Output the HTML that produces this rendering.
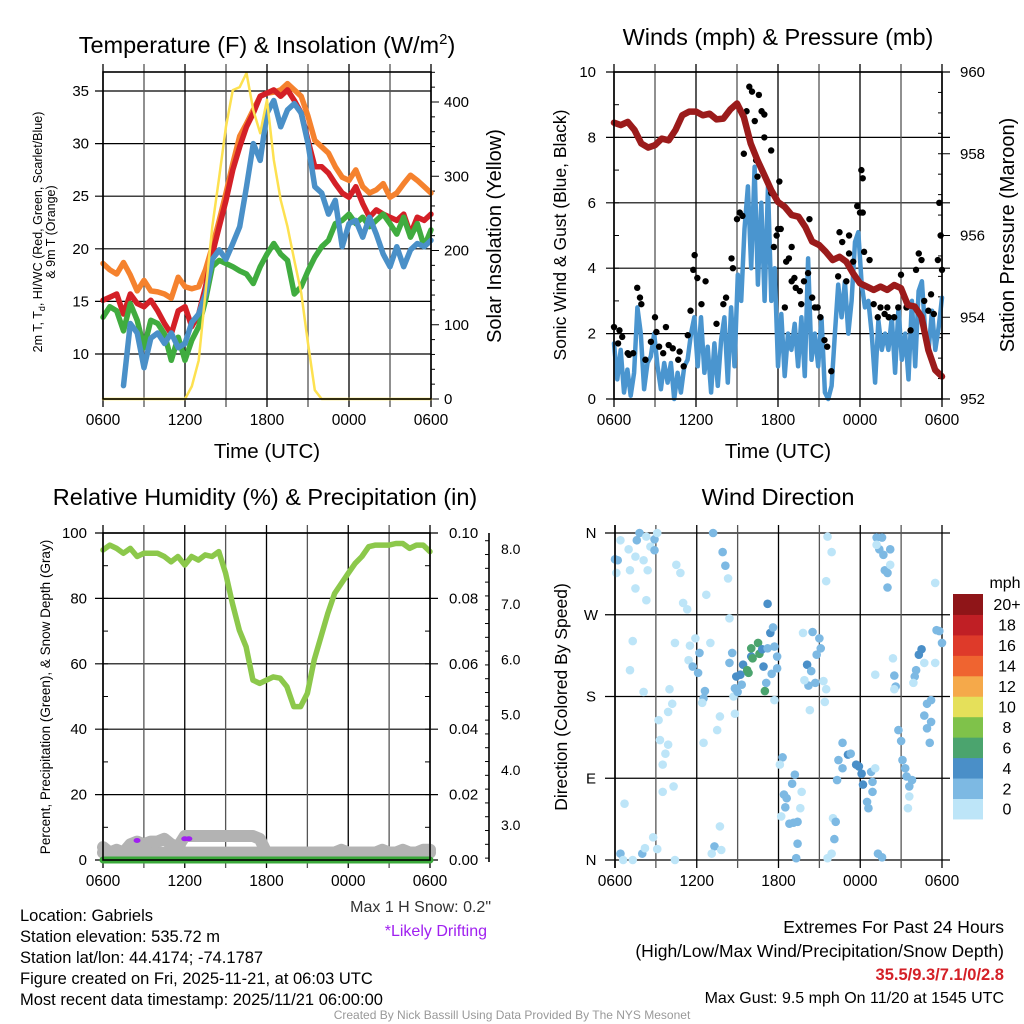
<!DOCTYPE html>
<html><head><meta charset="utf-8"><style>
html,body{margin:0;padding:0;background:#fff}
svg{display:block;font-family:"Liberation Sans",Arial,sans-serif}
</style></head><body>
<svg id="s" width="1024" height="1024" viewBox="0 0 1024 1024" xmlns="http://www.w3.org/2000/svg">
<rect width="1024" height="1024" fill="#fff"/>
<g id="g1"></g>
<g id="g2"></g>
<g id="g3"></g>
<g id="g4"></g>
<g id="gt"></g>
</svg>
<script>
// ---------- DATA ----------
const xTickLabels = ["0600","1200","1800","0000","0600"];
const tOrange = [18.6,18.0,17.6,18.7,17.5,16.0,17.0,16.0,15.9,15.7,15.3,17.3,16.4,16.2,16.4,18.0,20.2,22.7,25.3,28.1,30.7,31.9,33.2,34.5,34.8,34.9,35.1,35.7,35.1,34.5,32.6,30.3,29.7,29.1,27.8,26.8,26.5,27.5,25.9,25.3,25.6,26.2,24.9,25.3,26.2,27.0,26.5,25.9,25.3];
const tRed = [15.1,15.4,15.7,13.8,15.7,14.8,14.5,15.1,14.1,12.9,11.9,14.1,14.5,12.6,13.8,16.4,19.5,22.1,24.6,27.5,29.7,31.6,32.9,34.5,34.8,35.1,34.5,35.1,34.1,32.9,30.3,27.8,27.8,27.2,26.2,25.3,24.9,25.9,24.3,23.0,23.7,23.3,23.0,22.7,23.3,21.4,23.0,22.7,23.3];
const tBlue = [null,null,null,7.0,12.9,12.0,8.7,11.5,12.0,11.0,12.0,10.6,11.0,13.0,13.8,15.7,19.0,19.9,19.0,20.5,22.1,25.9,30.0,28.4,32.9,34.1,31.6,33.2,33.8,32.9,30.0,25.9,25.3,23.3,24.6,20.2,22.4,22.7,21.1,23.0,21.4,19.5,18.3,20.2,18.3,19.9,20.5,20.2,20.8];
const tGreen = [13.5,14.5,14.1,12.2,14.8,13.2,10.6,13.2,12.9,11.9,9.4,11.6,9.4,11.3,12.6,15.1,18.3,18.9,18.6,18.3,17.9,17.6,16.7,18.3,19.5,20.5,19.5,18.9,15.7,16.4,17.9,19.2,20.2,20.8,22.4,22.7,23.3,22.4,23.0,22.1,22.7,23.3,22.4,21.4,23.0,21.1,22.4,20.2,21.8];
const solar = [0,0,0,0,0,0,0,0,0,0,0,0,0,17,52,143,232,299,367,416,420,439,389,358,403,322,268,232,187,143,75,12,0,0,0,0,0,0,0,0,0,0,0,0,0,0,0,0,0];
const wind = [1.7,0.6,1.5,0.2,0.9,0.1,0.8,2.8,2.0,0.3,1.1,1.3,2.0,1.0,0.3,1.1,0.5,1.1,0.0,0.8,0.2,1.0,1.2,2.0,2.5,1.0,2.5,0.8,1.6,0.2,1.7,0.4,1.8,2.5,0.5,2.8,1.0,3.8,3.0,5.2,6.5,4.0,7.1,3.5,6.0,3.0,6.5,3.0,4.0,1.0,2.6,0.7,2.0,1.5,2.3,1.0,2.5,0.7,4.3,1.2,2.0,1.0,2.5,0.2,0.0,0.4,2.0,3.5,2.5,3.6,2.0,3.0,4.8,5.1,3.5,2.8,3.0,2.0,0.5,2.4,1.5,2.0,1.5,2.5,0.8,2.8,1.2,2.0,0.6,3.0,1.0,3.3,3.6,2.0,1.5,2.7,1.5,2.2,3.1];
const pressure = [958.76,958.70,958.78,958.58,958.25,958.15,958.21,958.37,958.33,958.58,958.94,959.03,959.03,958.94,958.98,958.84,958.86,959.08,959.23,958.90,958.25,957.84,957.48,957.11,956.82,956.70,956.50,956.46,956.21,955.85,955.77,955.60,955.40,955.48,955.36,955.07,954.83,954.75,954.67,954.75,954.67,954.79,954.71,954.30,954.26,954.01,953.20,952.71,952.55];
const gustHours = [0.0,0.4,0.6,0.3,1.0,1.1,1.4,1.7,1.9,2.0,2.3,2.7,3.0,3.1,3.3,3.6,3.8,4.0,4.3,4.7,4.8,5.1,5.4,5.6,5.8,5.9,6.1,6.4,6.7,7.5,8.0,8.2,8.6,8.7,9.0,9.2,9.4,9.5,9.7,9.9,10.1,10.3,10.4,10.5,10.6,10.8,11.0,11.0,11.5,11.5,11.7,11.9,12.0,12.1,12.2,12.5,12.6,12.8,13.0,13.0,13.2,13.3,13.6,13.7,13.9,14.2,14.3,14.5,14.7,14.9,15.1,15.4,15.6,15.9,16.4,16.5,16.7,17.0,17.2,17.2,17.5,17.8,18.0,18.1,18.2,18.2,18.3,18.7,19.0,19.3,19.5,19.8,20.0,20.1,20.5,20.8,21.0,21.4,21.7,22.1,22.3,22.5,22.7,23.0,23.2,23.4,23.7,23.8,23.9,24.0];
const gustValues = [2.2,2.1,1.9,1.7,1.4,1.35,1.4,3.4,3.1,2.9,1.2,1.75,2.5,2.05,1.6,1.4,2.2,1.65,1.55,1.2,1.45,1.0,1.95,2.7,3.95,4.4,3.7,2.9,3.6,2.3,2.9,3.1,4.3,4.0,5.5,5.7,5.6,7.5,8.8,9.55,9.4,8.5,7.3,6.8,9.3,8.8,8.7,8.0,7.6,6.3,4.65,5.0,5.2,6.65,5.2,2.8,4.2,4.3,4.65,3.6,3.7,3.4,3.3,2.9,3.6,3.85,5.5,3.1,2.8,2.8,2.5,1.8,1.6,0.85,3.75,5.1,4.8,3.6,5.0,4.45,4.2,5.9,5.7,7.0,6.75,5.7,4.5,4.25,2.9,2.5,2.8,2.6,2.8,2.5,2.5,2.8,3.8,2.8,2.1,3.95,4.45,4.25,3.0,2.7,3.2,2.6,4.25,6.0,5.0,3.95];
const rh = [94.8,96.3,95.3,93.8,95.3,92.8,93.8,93.8,93.8,92.8,91.2,92.8,90.2,92.8,91.7,93.3,92.8,94.3,87.7,78.5,70.3,65.2,55.0,54.0,55.0,56.0,55.6,53.0,46.9,46.9,51.0,61.2,68.3,75.4,81.5,84.6,87.7,90.7,92.8,95.8,96.3,96.3,96.3,96.8,96.8,95.3,96.3,96.3,94.3];
const precip = [0,0,0,0,0,0,0,0,0,0,0,0,0,0,0,0,0,0,0,0,0,0,0,0,0,0,0,0,0,0,0,0,0,0,0,0,0,0,0,0,0,0,0,0,0,0,0,0,0];
const snow = [2.6,2.5,2.55,2.5,2.65,2.7,2.65,2.7,2.7,2.75,2.65,2.6,2.8,2.8,2.8,2.8,2.8,2.8,2.8,2.8,2.8,2.8,2.8,2.75,2.5,2.5,2.5,2.5,2.5,2.5,2.5,2.5,2.5,2.5,2.5,2.55,2.5,2.5,2.5,2.5,2.5,2.55,2.5,2.5,2.55,2.5,2.5,2.55,2.55];
const driftHours = [2.5,6.0,6.3];
const driftValues = [2.72,2.75,2.75];
const dirHours = [0.0,0.2,0.1,0.4,1.0,1.1,1.5,1.6,1.8,1.5,2.1,2.3,2.4,2.6,2.9,2.9,2.3,3.1,1.3,1.1,2.1,3.2,3.3,3.5,3.7,3.9,3.9,4.2,4.0,4.4,4.3,3.5,0.7,0.4,0.6,1.3,2.0,2.2,2.8,3.1,4.4,4.5,4.8,5.0,5.3,5.9,5.5,5.4,5.7,6.1,6.2,6.6,6.5,6.4,7.0,6.7,6.5,7.2,7.9,8.1,8.3,8.4,8.6,8.4,8.7,8.8,7.7,7.5,7.7,7.3,7.1,7.8,8.9,9.2,9.4,9.7,9.8,10.0,10.1,10.0,10.5,10.6,10.8,10.9,11.0,11.1,11.2,11.4,11.6,11.7,11.9,11.9,11.5,11.2,9.0,8.8,9.3,11.7,12.3,12.1,13.2,13.0,12.4,12.6,12.5,12.2,12.8,13.1,13.4,13.6,13.7,13.4,13.3,13.8,14.5,14.1,14.4,15.0,15.1,14.8,14.7,14.2,13.9,14.3,15.3,15.5,15.4,15.6,15.9,15.5,16.7,16.4,16.7,17.1,17.3,17.7,17.9,18.1,18.2,18.5,18.6,18.9,18.8,19.1,18.9,16.3,16.0,16.2,16.1,15.9,15.6,19.2,19.6,19.4,19.7,19.8,20.0,20.2,20.2,20.0,19.2,19.3,19.6,19.1,20.5,20.6,20.5,20.4,20.8,21.0,21.1,21.3,21.4,21.8,21.6,21.6,21.5,22.1,22.0,21.9,22.3,22.5,22.7,23.5,22.9,23.2,22.7,23.2,22.9,23.1,23.6,23.8,24.0,23.5];
const dirDegs = [331,330,316,352,342,319,299,352,360,334,330,356,319,345,353,341,286,360,241,209,185,154,132,105,117,127,163,172,188,239,81,75,62,7,0,0,7,13,25,12,0,325,316,283,276,244,236,220,213,206,228,186,178,173,239,292,129,360,339,324,310,266,228,217,180,161,158,143,37,15,7,11,202,204,215,209,206,224,222,233,239,227,232,213,186,195,233,250,256,235,224,211,205,282,185,189,193,176,113,105,94,84,72,68,58,48,40,41,42,57,75,18,2,250,251,215,208,244,233,226,195,192,198,165,197,188,174,356,339,307,129,110,101,116,117,105,103,95,83,64,57,86,97,101,75,88,46,42,23,7,2,355,355,342,336,319,316,342,325,300,347,7,3,204,203,191,188,222,143,131,110,101,92,88,81,70,57,209,202,195,226,232,217,217,172,176,159,152,145,129,253,252,239,305];
const dirSpeeds = [3,3,1,1,1,1,1,3,3,1,1,1,1,1,3,3,1,1,1,1,1,1,1,1,1,1,1,1,1,1,1,1,1,3,1,1,3,1,1,1,1,1,1,1,1,1,1,1,3,3,3,3,3,1,1,1,1,3,3,3,1,1,3,3,1,1,1,1,1,3,1,1,5,5,5,7,7,5,7,7,7,7,5,5,7,3,3,5,3,3,3,3,3,5,3,3,3,1,3,1,3,3,3,3,3,1,3,3,3,1,1,3,3,1,3,5,3,3,3,3,3,3,1,1,1,1,1,1,1,1,3,3,3,5,3,5,5,5,5,3,3,3,3,1,3,3,1,3,3,1,1,3,3,3,3,3,3,3,1,3,1,3,3,1,3,3,1,1,3,3,3,3,3,3,3,1,1,3,3,1,5,5,1,1,3,3,3,3,3,3,3,3,3,1];
const speedBins = ["0","2","4","6","8","10","12","14","16","18","20+"];
const speedColors = ["#bde5f8","#7db9e3","#4a8fc8","#4ba46e","#7fc24a","#e5e05a","#f5a94a","#ef6430","#de3a2a","#c01f25","#8f1518"];

// ---------- HELPERS ----------
const NS="http://www.w3.org/2000/svg";
function el(parent, tag, attrs, text){const e=document.createElementNS(NS,tag);for(const k in attrs)e.setAttribute(k,attrs[k]);if(text!==undefined)e.textContent=text;parent.appendChild(e);return e;}
function lin(d0,d1,r0,r1){return v=>r0+(v-d0)*(r1-r0)/(d1-d0);}
function line(parent,x1,y1,x2,y2,c,w){return el(parent,'line',{x1,y1,x2,y2,stroke:c,'stroke-width':w});}
function poly(parent,xs,ys,vals,color,w,name){
  let segs=[],cur=[];const step=24/(vals.length-1);
  vals.forEach((v,i)=>{if(v===null||v===undefined){if(cur.length)segs.push(cur);cur=[];}else cur.push(xs(i*step).toFixed(1)+','+ys(v).toFixed(1));});
  if(cur.length)segs.push(cur);
  segs.forEach(s=>{const p=el(parent,'polyline',{points:s.join(' '),fill:'none',stroke:color,'stroke-width':w,'stroke-linejoin':'round','stroke-linecap':'round'});
  
  });
}
function frame(g,L,R,T,B){
  el(g,'rect',{x:L,y:T,width:R-L,height:B-T,fill:'none',stroke:'#000','stroke-width':1.6});
}
function xAxis(g,xs,B,T){
  for(let h=0;h<=24;h+=3){const x=xs(h);line(g,x,T-8,x,B+8,h%6==0?'#000':'#555',1.3);}
  xTickLabels.forEach((lab,i)=>{const t=el(g,'text',{x:xs(i*6),y:B+26,'font-size':15.5,'text-anchor':'middle'},lab);
    
    });
}
function txt(g,x,y,s,str,anchor,extra){const a=Object.assign({x,y,'font-size':s,'text-anchor':anchor||'start'},extra||{});return el(g,'text',a,str);}

// ---------- PANEL 1 ----------
(function(){
 const g=document.getElementById('g1');
 const L=103,R=431,T=72,B=399;
 const xs=lin(0,24,L,R), ys=lin(10,35,354,91), yr=lin(0,400,399,102);
 [10,15,20,25,30,35].forEach(v=>{line(g,L-8,ys(v),R,ys(v),'#000',1.2);const t=txt(g,L-14,ys(v)+5,15,String(v),'end');});
 for(let v=0;v<=440;v+=20){line(g,R,yr(v),R+(v%100==0?8:4),yr(v),'#000',1);}
 [0,100,200,300,400].forEach(v=>{const t=txt(g,R+13,yr(v)+5,15,String(v));});
 xAxis(g,xs,B,T);
 poly(g,xs,ys,tOrange,'#f5822e',5.5,'series-9m-temp');
 poly(g,xs,ys,tRed,'#d42027',5.5,'series-2m-temp');
 poly(g,xs,ys,tGreen,'#40ac3f',5.5,'series-dewpoint');
 poly(g,xs,ys,tBlue,'#4a90c8',5.5,'series-heat-index-windchill');
 poly(g,xs,yr,solar,'#fde150',2.5,'series-solar');
 frame(g,L,R,T,B);
 const t=txt(g,267,53,23.5,'','middle');
 t.innerHTML='Temperature (F) &amp; Insolation (W/m<tspan dy="-9" font-size="15">2</tspan><tspan dy="9">)</tspan>';
 const xt=txt(g,267,458,20.5,'Time (UTC)','middle');
 const yl=el(g,'text',{transform:'translate(42,232) rotate(-90)','font-size':12.5,'text-anchor':'middle'});
 
 yl.innerHTML='2m T, T<tspan dy="3" font-size="9">d</tspan><tspan dy="-3">, HI/WC (Red, Green, Scarlet/Blue)</tspan>';
 const yl2=txt(g,0,0,12.5,'& 9m T (Orange)','middle',{transform:'translate(55,232) rotate(-90)'});
 const yr2=txt(g,0,0,20,'Solar Insolation (Yellow)','middle',{transform:'translate(501,236) rotate(-90)'});
})();

// ---------- PANEL 2 ----------
(function(){
 const g=document.getElementById('g2');
 const L=614,R=942,T=72,B=399;
 const xs=lin(0,24,L,R), ys=lin(0,10,399,72), yp=lin(952,960,399,72);
 [0,2,4,6,8,10].forEach(v=>{line(g,L-8,ys(v),R+8,ys(v),'#000',1.2);const t=txt(g,L-18,ys(v)+5,15,String(v),'end');});
 for(let v=0;v<=10;v+=1){line(g,L,ys(v),L+5,ys(v),'#000',1);}
 for(let v=952;v<=960;v+=0.5){line(g,R-4,yp(v),R+(v%2==0?8:0),yp(v),'#000',1);}
 [952,954,956,958,960].forEach(v=>{const t=txt(g,R+18,yp(v)+5,15,String(v));});
 xAxis(g,xs,B,T);
 poly(g,xs,ys,wind,'#4a95cf',4.5,'series-sonic-wind');
 gustHours.forEach((h,i)=>{const c=el(g,'circle',{cx:xs(h),cy:ys(gustValues[i]),r:3.2,fill:'#000'});
   
   });
 poly(g,xs,yp,pressure,'#9b1b1b',6.5,'series-pressure');
 frame(g,L,R,T,B);
 const t=txt(g,778,45,23.5,'Winds (mph) & Pressure (mb)','middle');
 const xt=txt(g,778,458,20.5,'Time (UTC)','middle');
 const a=txt(g,0,0,17.5,'Sonic Wind & Gust (Blue, Black)','middle',{transform:'translate(566,235) rotate(-90)'});
 const b=txt(g,0,0,20,'Station Pressure (Maroon)','middle',{transform:'translate(1014,235) rotate(-90)'});
})();

// ---------- PANEL 3 ----------
(function(){
 const g=document.getElementById('g3');
 const L=103,R=430,T=533,B=860;
 const xs=lin(0,24,L,R), ys=lin(0,100,860,533), yp=lin(0,0.1,860,533), yn=lin(3,8,825,549);
 [0,20,40,60,80,100].forEach(v=>{line(g,L-8,ys(v),R+8,ys(v),'#000',1.2);const t=txt(g,L-16,ys(v)+5,15,String(v),'end');});
 for(let v=0;v<=100;v+=10){line(g,L,ys(v),L+5,ys(v),'#000',1);line(g,R-5,ys(v),R,ys(v),'#000',1);}
 ['0.00','0.02','0.04','0.06','0.08','0.10'].forEach((s,i)=>{const t=txt(g,R+19,ys(i*20)+5,15,s);});
 line(g,489,533,489,862,'#000',1.6);
 for(let v=2.4;v<=8.3;v+=0.25){line(g,489,yn(v),489-(Math.abs(v-Math.round(v))<0.01?8:4),yn(v),'#000',1);}
 [3,4,5,6,7,8].forEach(v=>{const t=txt(g,501,yn(v)+5,14,v.toFixed(1));});
 xAxis(g,xs,B,T);
 poly(g,xs,yn,snow.map(()=>2.5),'#b3b3b3',12,'series-snow-base');
 poly(g,xs,yn,snow,'#b3b3b3',12,'series-snow-depth');
 driftHours.forEach((h,i)=>{const c=el(g,'ellipse',{cx:xs(h),cy:yn(driftValues[i]),rx:3.5,ry:2.5,fill:'#a020f0'});
   
   });
 poly(g,xs,yp,precip,'#3aa83a',7,'series-precipitation');
 poly(g,xs,ys,rh,'#8cc84b',5.5,'series-relative-humidity');
 frame(g,L,R,T,B);
 const t=txt(g,265,505,23.5,'Relative Humidity (%) & Precipitation (in)','middle');
 const a=txt(g,0,0,13.5,'Percent, Precipitation (Green), & Snow Depth (Gray)','middle',{transform:'translate(50,697) rotate(-90)'});
})();

// ---------- PANEL 4 ----------
(function(){
 const g=document.getElementById('g4');
 const L=615,R=942,T=533,B=860;
 const xs=lin(0,24,L,R), yd=lin(0,360,860,533);
 ['N','E','S','W','N'].forEach((s,i)=>{line(g,L-10,yd(i*90),R+8,yd(i*90),'#000',1.2);const t=txt(g,591,yd(i*90)+5,15,s,'middle');});
 xAxis(g,xs,B,T);
 dirHours.forEach((h,i)=>{const c=el(g,'circle',{cx:xs(h),cy:yd(dirDegs[i]),r:4.3,fill:speedColors[Math.min(10,Math.floor(dirSpeeds[i]/2))]});
   
   });
 line(g,L,T-8,L,B+8,'#000',1.6);
 const t=txt(g,778,505,23.5,'Wind Direction','middle');
 const a=txt(g,0,0,17.5,'Direction (Colored By Speed)','middle',{transform:'translate(567,697) rotate(-90)'});
 const cb=el(g,'g',{});
 const top=594,bh=20.45;
 speedBins.forEach((lab,i)=>{const y=top+(10-i)*bh;
   const r=el(cb,'rect',{x:953,y:y,width:30,height:bh+0.5,fill:speedColors[i]});
   
   
   const tl=txt(cb,1007,y+bh/2+6,16,lab,'middle');
   
   });
 const m=txt(cb,1005,588,16,'mph','middle');
})();

// ---------- TEXT ----------
(function(){
 const g=document.getElementById('gt');
 const L=[["Location: Gabriels",921],["Station elevation: 535.72 m",942],["Station lat/lon: 44.4174; -74.1787",963],["Figure created on Fri, 2025-11-21, at 06:03 UTC",984],["Most recent data timestamp: 2025/11/21 06:00:00",1005]];
 L.forEach(a=>{const t=txt(g,20,a[1],16.5,a[0]);});
 let t=txt(g,491,912,16,'Max 1 H Snow: 0.2"','end',{fill:'#333'});
 t=txt(g,487,936,16,'*Likely Drifting','end',{fill:'#a020f0'});
 t=txt(g,1004,933,17.5,'Extremes For Past 24 Hours','end');
 t=txt(g,1004,957,17.5,'(High/Low/Max Wind/Precipitation/Snow Depth)','end');
 t=txt(g,1004,980,16.5,'35.5/9.3/7.1/0/2.8','end',{fill:'#d42027','font-weight':'bold'});
 t=txt(g,1004,1003,16,'Max Gust: 9.5 mph On 11/20 at 1545 UTC','end');
 t=txt(g,512,1019,12,'Created By Nick Bassill Using Data Provided By The NYS Mesonet','middle',{fill:'#999'});
})();
</script>
</body></html>
